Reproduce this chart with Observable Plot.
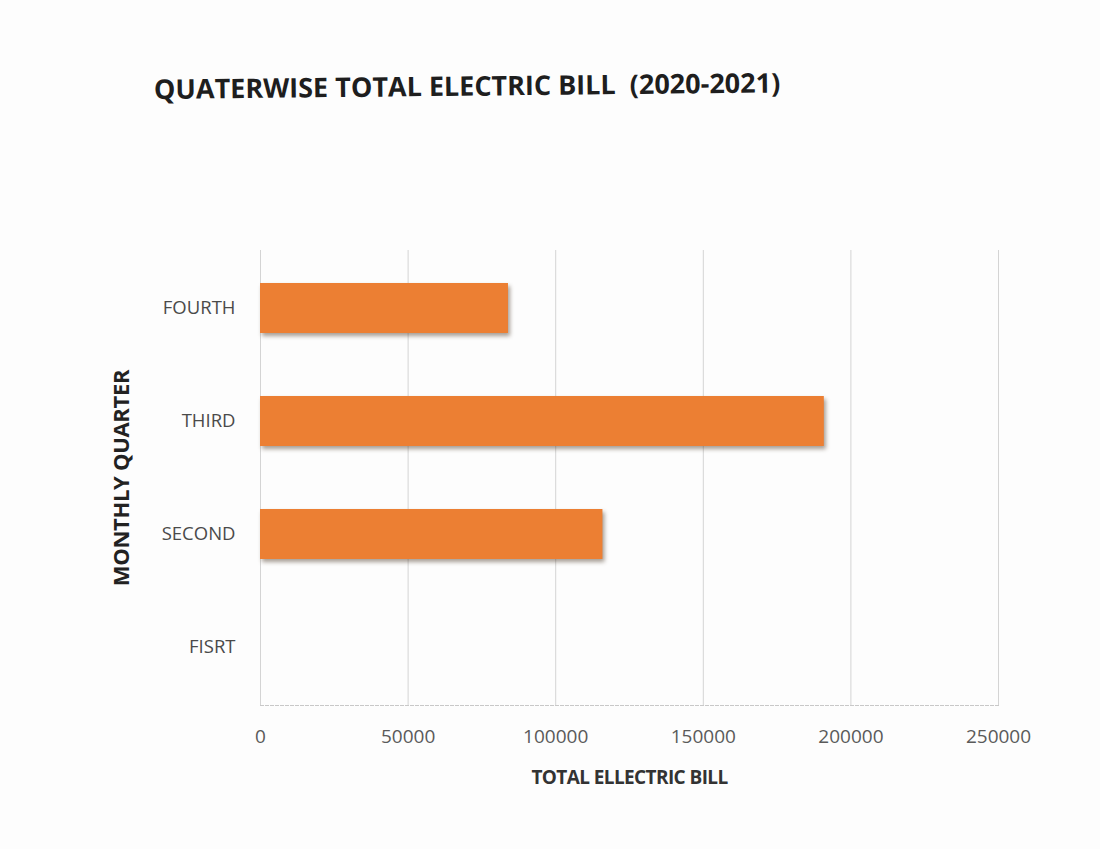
<!DOCTYPE html>
<html>
<head>
<meta charset="utf-8">
<script src="https://cdn.jsdelivr.net/npm/d3@7"></script>
<script src="https://cdn.jsdelivr.net/npm/@observablehq/plot@0.6"></script>
<style>
  html, body { margin: 0; padding: 0; background: #ffffff; }
  #wrap { position: relative; width: 1100px; height: 849px; overflow: hidden; background: #fdfdfd; }
  #title { position: absolute; left: 154px; top: 70px; font-family: "Open Sans", sans-serif; font-weight: 700; font-size: 27px; color: #1e1e1e; letter-spacing: 0px; white-space: pre; transform: rotate(-0.6deg); transform-origin: left center; }
  #chart { position: absolute; left: 0; top: 200px; }
</style>
</head>
<body>
<div id="wrap">
  <div id="title">QUATERWISE TOTAL ELECTRIC BILL  (2020-2021)</div>
  <div id="chart"></div>
</div>
<script>
const categories = ["FISRT", "SECOND", "THIRD", "FOURTH"];
const bills = [0, 116000, 191000, 84000];
const xTicks = [0, 50000, 100000, 150000, 200000, 250000];
const xLabel = "TOTAL ELLECTRIC BILL";
const yLabel = "MONTHLY QUARTER";

const data = categories.map((q, i) => ({quarter: q, bill: bills[i]}));

const plot = Plot.plot({
  width: 1100,
  height: 649,
  marginLeft: 260,
  marginRight: 102,
  marginTop: 50,
  marginBottom: 144,
  style: {background: "transparent", fontFamily: "Open Sans, sans-serif"},
  x: {domain: [0, 250000]},
  y: {domain: categories.slice().reverse(), paddingInner: 0.56, paddingOuter: 0.28},
  marks: [
    Plot.ruleX(xTicks, {stroke: "#d4d4d4", strokeWidth: 1}),
    Plot.frame({anchor: "bottom", stroke: "#c8c8c8", strokeDasharray: "3,2"}),
    Plot.barX(data, {x: "bill", y: "quarter", fill: "#ec7f33"}),
    Plot.axisX({ticks: xTicks, tickFormat: d => String(d), tickSize: 0, tickPadding: 24, fontSize: 19, fill: "#5a5a5a",
      label: xLabel, labelAnchor: "center", labelArrow: "none", labelOffset: 78}),
    Plot.axisY({tickSize: 0, tickPadding: 25, fontSize: 18.5, fill: "#4a4a4a",
      label: yLabel, labelAnchor: "center", labelArrow: "none", labelOffset: 147})
  ]
});
document.getElementById("chart").appendChild(plot);

const svg = d3.select(plot);
svg.selectAll('g[aria-label="bar"]').style("filter", "drop-shadow(2px 3px 2px rgba(60,40,20,0.45))");
svg.selectAll('g[aria-label="x-axis label"] text, g[aria-label="x-axis label"]')
  .attr("font-weight", "700").attr("font-size", 19).attr("fill", "#333").attr("letter-spacing", "-0.6");
svg.selectAll('g[aria-label="y-axis label"] text, g[aria-label="y-axis label"]')
  .attr("font-weight", "700").attr("font-size", 22).attr("fill", "#222").attr("letter-spacing", "-0.3");
</script>
</body>
</html>
